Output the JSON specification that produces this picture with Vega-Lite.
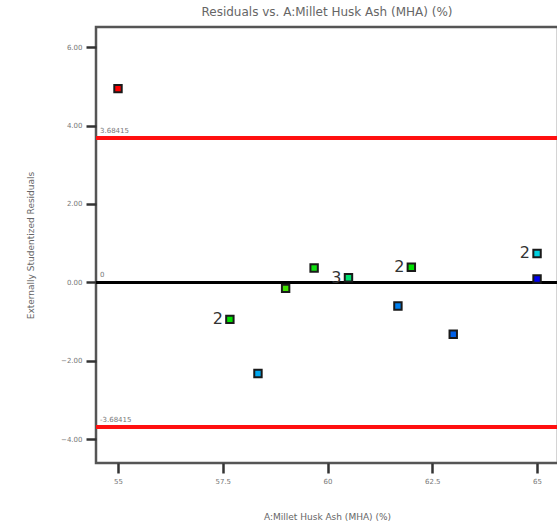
{
  "$schema": "https://vega.github.io/schema/vega-lite/v6.json",
  "autosize": "none",
  "padding": {"left": 96, "top": 27, "right": 0, "bottom": 66},
  "width": 462,
  "height": 436,
  "background": "white",
  "config": {
    "font": "DejaVu Sans",
    "view": {"stroke": "#555", "strokeWidth": 2.5},
    "axis": {"grid": false, "domain": false, "tickColor": "#333", "tickWidth": 2.5, "tickSize": 10, "labelColor": "#777", "labelFontSize": 7, "labelFont": "DejaVu Sans", "titleColor": "#666", "titleFontSize": 9, "titleFontWeight": "normal"}
  },
  "title": {"text": "Residuals vs. A:Millet Husk Ash (MHA) (%)", "fontSize": 12, "fontWeight": "normal", "color": "#666", "offset": 8, "anchor": "middle"},
  "datasets": {
    "pts": [
      {"mha": 55.0, "res": 4.94, "grp": "g1", "cnt": ""},
      {"mha": 57.67, "res": -0.94, "grp": "g2", "cnt": "2"},
      {"mha": 58.34, "res": -2.32, "grp": "g3", "cnt": ""},
      {"mha": 59.0, "res": -0.15, "grp": "g4", "cnt": ""},
      {"mha": 59.68, "res": 0.37, "grp": "g5", "cnt": ""},
      {"mha": 60.5, "res": 0.12, "grp": "g6", "cnt": "3"},
      {"mha": 61.68, "res": -0.6, "grp": "g7", "cnt": ""},
      {"mha": 62.0, "res": 0.39, "grp": "g2", "cnt": "2"},
      {"mha": 63.0, "res": -1.32, "grp": "g8", "cnt": ""},
      {"mha": 65.0, "res": 0.74, "grp": "g9", "cnt": "2"},
      {"mha": 65.0, "res": 0.09, "grp": "g10", "cnt": ""}
    ],
    "refs": [
      {"v": 3.68415, "label": "3.68415", "kind": "limit"},
      {"v": -3.68415, "label": "-3.68415", "kind": "limit"},
      {"v": 0, "label": "0", "kind": "zero"}
    ]
  },
  "layer": [
    {
      "data": {"name": "refs"},
      "mark": {"type": "rule", "strokeCap": "butt"},
      "encoding": {
        "y": {"field": "v", "type": "quantitative", "scale": {"domain": [-4.6, 6.51], "nice": false, "zero": false},
          "axis": {"values": [-4, -2, 0, 2, 4, 6], "format": ".2f", "title": "Externally Studentized Residuals", "titlePadding": 25, "labelPadding": 4}},
        "color": {"field": "kind", "type": "nominal", "scale": {"domain": ["limit", "zero"], "range": ["#ff1010", "#000000"]}, "legend": null},
        "strokeWidth": {"field": "kind", "type": "nominal", "scale": {"domain": ["limit", "zero"], "range": [4, 3]}, "legend": null}
      }
    },
    {
      "data": {"name": "refs"},
      "mark": {"type": "text", "align": "left", "baseline": "bottom", "dx": 4, "dy": -4, "fontSize": 7, "color": "#777"},
      "encoding": {
        "x": {"datum": 54.475, "type": "quantitative"},
        "y": {"field": "v", "type": "quantitative"},
        "text": {"field": "label"}
      }
    },
    {
      "data": {"name": "pts"},
      "mark": {"type": "point", "shape": "square", "filled": true, "size": 55, "stroke": "#1a1a1a", "strokeWidth": 2, "opacity": 1},
      "encoding": {
        "x": {"field": "mha", "type": "quantitative", "scale": {"domain": [54.475, 65.5], "nice": false, "zero": false},
          "axis": {"values": [55, 57.5, 60, 62.5, 65], "format": ".1~f", "title": "A:Millet Husk Ash (MHA) (%)", "titlePadding": 28, "labelPadding": 4}},
        "y": {"field": "res", "type": "quantitative"},
        "fill": {"field": "grp", "type": "nominal", "legend": null,
          "scale": {"domain": ["g1", "g2", "g3", "g4", "g5", "g6", "g7", "g8", "g9", "g10"],
            "range": ["#ff0000", "#00e000", "#00a8f0", "#40e000", "#10e010", "#00e070", "#0080f0", "#0060e8", "#00d0e0", "#0000f0"]}}
      }
    },
    {
      "data": {"name": "pts"},
      "mark": {"type": "text", "align": "right", "baseline": "middle", "dx": -7, "fontSize": 16, "color": "#333"},
      "encoding": {
        "x": {"field": "mha", "type": "quantitative"},
        "y": {"field": "res", "type": "quantitative"},
        "text": {"field": "cnt"}
      }
    }
  ]
}
